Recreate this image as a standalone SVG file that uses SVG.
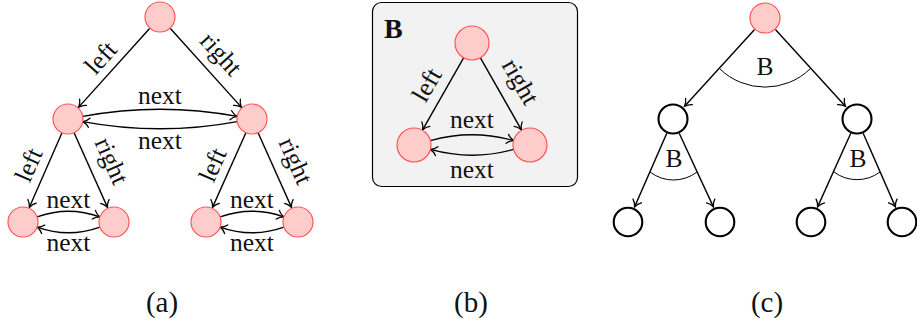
<svg xmlns="http://www.w3.org/2000/svg" width="917" height="324" viewBox="0 0 917 324">
<defs>
<marker id="arr" markerUnits="userSpaceOnUse" markerWidth="14" markerHeight="14" viewBox="-8 -7 9 14" refX="0" refY="0" orient="auto">
<path d="M -6.5 -4.6 C -4.4 -1.9 -1.4 -0.5 0 0 C -1.4 0.5 -4.4 1.9 -6.5 4.6" fill="none" stroke="#000" stroke-width="1.3" stroke-linecap="round"/>
</marker>
<style>
.pk{fill:#ffcccc;stroke:#ff5555;stroke-width:1.2}
.wh{fill:#fff;stroke:#000;stroke-width:2.1}
.e{fill:none;stroke:#000;stroke-width:1.4;marker-end:url(#arr)}
.arc{fill:none;stroke:#000;stroke-width:1}
.t{font-family:"Liberation Serif","Times New Roman",serif;font-size:25.5px;fill:#111;text-anchor:middle}
.cap{font-family:"Liberation Serif","Times New Roman",serif;font-size:29px;fill:#111;text-anchor:middle}
.tb{font-family:"Liberation Serif","Times New Roman",serif;font-size:28px;font-weight:bold;fill:#111}
.box{fill:#f2f2f2;stroke:#000;stroke-width:1.2}
</style>
</defs>

<!-- (b) background box -->
<rect id="boxB" class="box" x="372.5" y="2.5" width="205" height="184" rx="9" ry="9"/>

<g id="connectors">
<!-- (a) -->
<path class="e" d="M149.6 28.5 L78.7 107.1"/>
<path class="e" d="M170.4 28.5 L241.3 107.1"/>
<path class="e" d="M62 132.7 L29.4 207.3"/>
<path class="e" d="M74.1 132.7 L107.5 207.4"/>
<path class="e" d="M245.9 132.7 L212.5 207.4"/>
<path class="e" d="M258.1 132.7 L291.5 207.4"/>
<path class="e" d="M82.8 116.4 Q160 102 237.2 116.4"/>
<path class="e" d="M237.2 121.6 Q160 136 82.8 121.6"/>
<path class="e" d="M37.1 216.9 Q68.5 205.5 99.9 216.9"/>
<path class="e" d="M99.9 227.1 Q68.5 238.5 37.1 227.1"/>
<path class="e" d="M220.1 216.9 Q252 205.5 283.9 216.9"/>
<path class="e" d="M283.9 227.1 Q252 238.5 220.1 227.1"/>
<!-- (b) -->
<path class="e" d="M463.6 57.8 L422.6 129.8"/>
<path class="e" d="M480.4 57.8 L521.4 129.8"/>
<path class="e" d="M430.4 140.6 Q472 129 513.6 140.6"/>
<path class="e" d="M513.6 149.4 Q472 161 430.4 149.4"/>
<!-- (c) -->
<path class="e" d="M754.6 29.5 L684.6 106.3"/>
<path class="e" d="M775.4 29.5 L845.4 106.3"/>
<path class="e" d="M666.8 133.2 L634.6 206.9"/>
<path class="e" d="M679.2 133.2 L713.4 206.9"/>
<path class="e" d="M850.8 133.2 L817.6 206.9"/>
<path class="e" d="M863.2 133.2 L895.4 206.9"/>
<path class="arc" d="M720 69 A65 65 0 0 0 810 69"/>
<path class="arc" d="M650 172 A38.5 38.5 0 0 0 697 172"/>
<path class="arc" d="M834 172 A38.5 38.5 0 0 0 880 172"/>
</g>

<!-- (a) nodes -->
<g id="a-root"><circle class="pk" cx="160" cy="17" r="15"/></g>
<g id="a-l"><circle class="pk" cx="68" cy="119" r="15"/></g>
<g id="a-r"><circle class="pk" cx="252" cy="119" r="15"/></g>
<g id="a-ll"><circle class="pk" cx="23" cy="222" r="15"/></g>
<g id="a-lr"><circle class="pk" cx="114" cy="222" r="15"/></g>
<g id="a-rl"><circle class="pk" cx="206" cy="222" r="15"/></g>
<g id="a-rr"><circle class="pk" cx="298" cy="222" r="15"/></g>

<!-- (b) nodes -->
<g id="b-top"><circle class="pk" cx="472" cy="43" r="17"/></g>
<g id="b-l"><circle class="pk" cx="414" cy="145" r="17"/></g>
<g id="b-r"><circle class="pk" cx="530" cy="145" r="17"/></g>

<!-- (c) nodes -->
<g id="c-root"><circle class="pk" cx="765" cy="18" r="15"/></g>
<g id="c-l"><circle class="wh" cx="673" cy="119" r="14.5"/></g>
<g id="c-r"><circle class="wh" cx="857" cy="119" r="14.5"/></g>
<g id="c-ll"><circle class="wh" cx="628" cy="222" r="14.3"/></g>
<g id="c-lr"><circle class="wh" cx="720" cy="222" r="14.3"/></g>
<g id="c-rl"><circle class="wh" cx="811" cy="222" r="14.3"/></g>
<g id="c-rr"><circle class="wh" cx="902" cy="222" r="14.3"/></g>

<g id="labels">
<!-- (a) -->
<text class="t" x="101" y="58" dy="8" transform="rotate(-48 101 58)">left</text>
<text class="t" x="219" y="56" dy="5.5" transform="rotate(48 219 56)">right</text>
<text class="t" x="160" y="104">next</text>
<text class="t" x="160" y="149">next</text>
<text class="t" x="29" y="165" dy="8" transform="rotate(-66 29 165)">left</text>
<text class="t" x="109" y="162" dy="5.5" transform="rotate(66 109 162)">right</text>
<text class="t" x="213" y="165" dy="8" transform="rotate(-66 213 165)">left</text>
<text class="t" x="293" y="162" dy="5.5" transform="rotate(66 293 162)">right</text>
<text class="t" x="68.5" y="208">next</text>
<text class="t" x="68.5" y="251">next</text>
<text class="t" x="252" y="208">next</text>
<text class="t" x="252" y="251">next</text>
<!-- (b) -->
<text class="tb" x="384" y="38">B</text>
<text class="t" x="427" y="85" dy="8" transform="rotate(-60 427 85)">left</text>
<text class="t" x="518" y="83" dy="5.5" transform="rotate(60 518 83)">right</text>
<text class="t" x="472" y="128">next</text>
<text class="t" x="472" y="178">next</text>
<!-- (c) -->
<text class="t" x="765" y="75">B</text>
<text class="t" x="674" y="167">B</text>
<text class="t" x="858" y="167">B</text>
<!-- captions -->
<text class="cap" x="162" y="312">(a)</text>
<text class="cap" x="471" y="312">(b)</text>
<text class="cap" x="767" y="312">(c)</text>
</g>
</svg>
